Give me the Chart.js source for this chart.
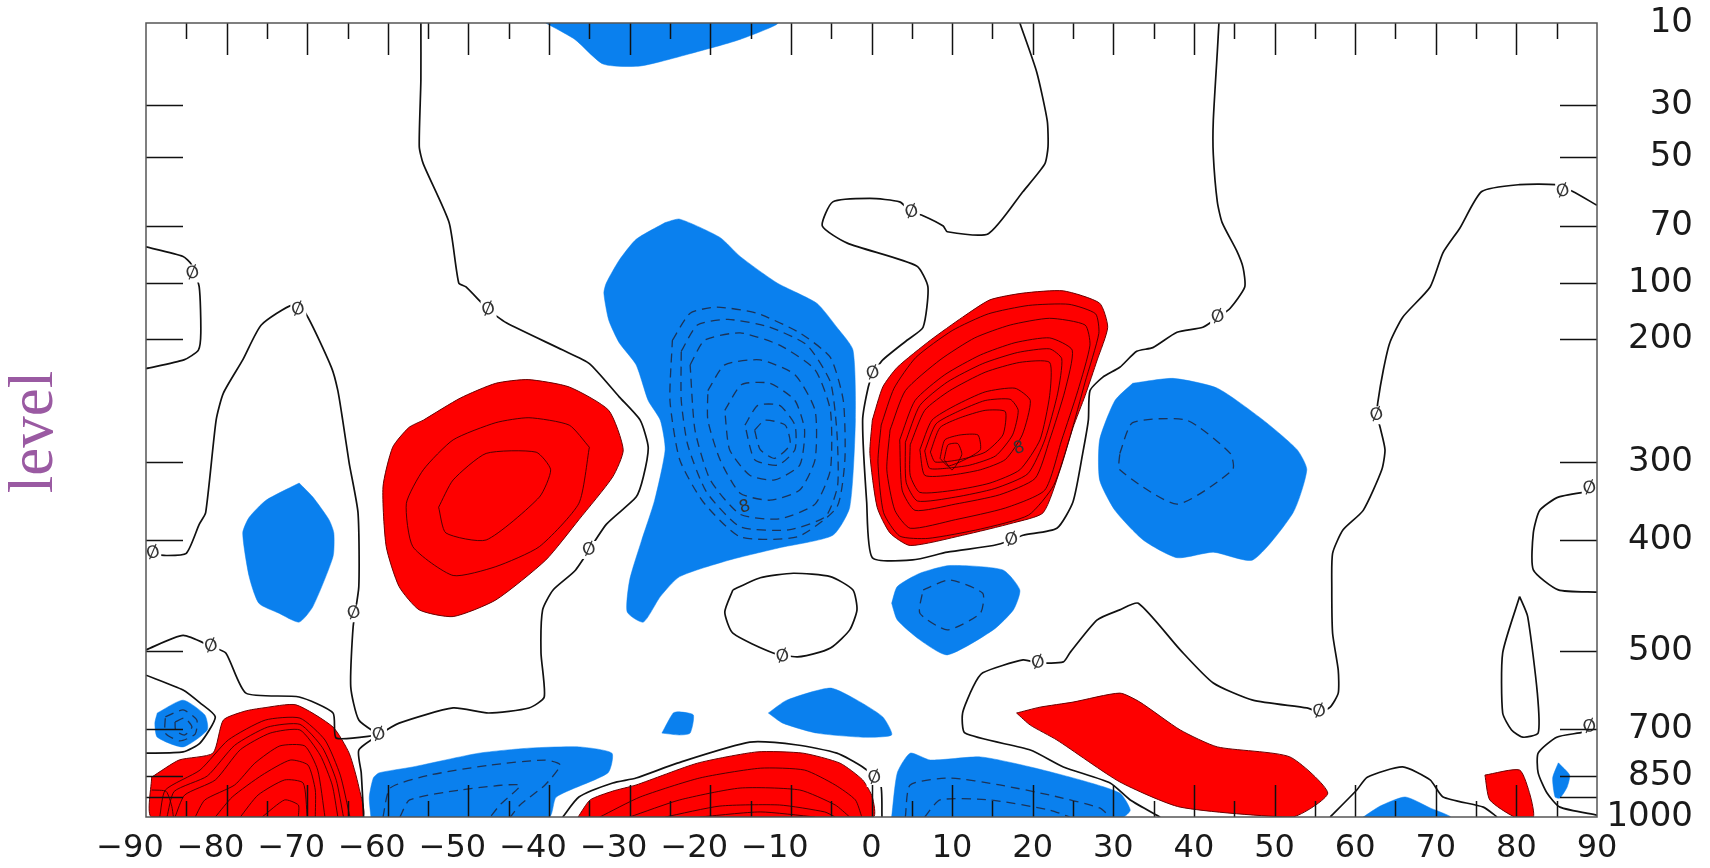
<!DOCTYPE html>
<html>
<head>
<meta charset="utf-8">
<script src="https://cdn.jsdelivr.net/npm/chart.js@4.4.1/dist/chart.umd.min.js"></script>
<style>
  html, body { margin: 0; padding: 0; background: #fff; }
  #wrap { width: 1710px; height: 868px; position: relative; }
</style>
</head>
<body>
<div id="wrap"><canvas id="xsec"></canvas></div>
<script>
// axes
const latTicks = [-90, -80, -70, -60, -50, -40, -30, -20, -10, 0, 10, 20, 30, 40, 50, 60, 70, 80, 90];
const levels = [10, 30, 50, 70, 100, 200, 300, 400, 500, 700, 850, 925, 1000];
const levelLabels = ['10', '30', '50', '70', '100', '200', '300', '400', '500', '700', '850', '', '1000'];
// where each level sits on the (non uniform) vertical axis, 0 = top, 1 = bottom
const levelPos = [0, 0.1033, 0.1688, 0.2557, 0.3275, 0.398, 0.5529, 0.6511, 0.7909, 0.8892, 0.9484, 0.9748, 1];

// shaded regions, [lat, hPa]
const blueTop = [[-40.4,10],[-36.8,14],[-33.3,20],[-28.7,20.5],[-21.6,17],[-16.3,14],[-11.7,10]];
const blueCenter = [[-25.6,69],[-23.8,68],[-18.8,76],[-16.3,86],[-11.7,100],[-6.8,136],[-4.3,179],[-2.3,209],[-2.0,266],[-2.7,358],[-4.8,394],[-11.4,407],[-17.6,418],[-23.8,433],[-26.2,451],[-28.3,474],[-30.3,465],[-30.0,436],[-28.5,400],[-26.9,349],[-25.6,290],[-26.2,266],[-27.7,250],[-29.2,221],[-31.3,203],[-32.6,166],[-33.2,118],[-32.9,100],[-31.3,88],[-29.2,77]];
const blueWest = [[-71.0,327],[-69.3,345],[-67.3,374],[-66.7,391],[-66.8,415],[-69.3,460],[-71.0,474],[-73.5,466],[-76.0,457],[-77.2,433],[-78.0,391],[-77.2,371],[-75.1,349]];
const blueSmall = [[-88.6,659],[-85.4,626],[-82.7,664],[-82.4,703],[-85.4,757],[-88.6,726],[-88.9,685]];
const blueSouthLow = [[-62.1,1000],[-62.3,925],[-61.8,857],[-61.1,840],[-56.9,821],[-48.7,777],[-42.5,761],[-36.3,757],[-32.2,777],[-32.7,840],[-39.1,925],[-40.0,1000]];
const blueDot = [[-26.0,713],[-24.6,659],[-23.8,656],[-22.1,664],[-22.5,713],[-23.8,719]];
const blueMid = [[-12.8,659],[-10.5,626],[-5.1,595],[-1.8,626],[1.4,669],[2.5,719],[-1.1,726],[-6.8,713],[-11.0,685]];
const blueEquator = [[2.5,457],[3.2,442],[6.0,430],[9.7,423],[16.3,427],[18.4,445],[17.6,463],[15.1,481],[9.4,510],[6.0,490],[3.2,472]];
const blueEastLow = [[2.5,1000],[3.2,840],[4.8,777],[7.3,799],[13.5,789],[19.7,821],[25.9,864],[30.8,911],[32.1,974],[31.2,1000]];
const blueNorth = [[32.4,236],[37.4,232],[42.9,240],[48.6,266],[52.8,290],[54.0,310],[52.3,365],[47.3,418],[42.4,411],[37.9,416],[33.7,400],[30.2,362],[28.3,323],[28.3,282],[30.2,250]];
const blueArctic = [[61.0,1000],[63.1,959],[66.2,925],[69.3,966],[71.8,1000]];
const bluePole = [[85.2,808],[86.6,847],[86.3,889],[85.4,929],[84.8,925],[84.5,857]];

const redSouthUp = [[-55.6,266],[-51.0,248],[-46.6,236],[-42.6,233],[-37.5,239],[-32.6,258],[-30.8,290],[-32.1,319],[-36.3,374],[-40.4,418],[-46.6,454],[-51.9,469],[-56.1,463],[-58.6,442],[-60.2,406],[-60.6,332],[-59.4,288],[-57.4,272]];
const redEquatorUp = [[0.1,266],[1.4,239],[3.2,223],[7.3,201],[11.3,161],[14.7,130],[18.8,118],[23.8,114],[28.3,136],[29.3,179],[28.0,217],[26.5,246],[25.0,272],[23.4,310],[21.3,365],[17.6,378],[11.3,394],[4.8,405],[2.3,391],[0.7,358],[-0.2,293]];
const redEquatorLow = [[-36.4,1000],[-34.9,936],[-32.1,904],[-29.2,882],[-21.6,809],[-14.2,773],[-8.5,777],[-3.9,809],[-1.1,864],[0.1,925],[0.2,1000]];
const redNorthLow = [[18.0,659],[20.9,644],[25.0,631],[30.8,608],[33.3,631],[38.3,703],[42.9,757],[51.9,789],[56.6,911],[52.2,1000],[38.3,963],[30.8,871],[23.0,735],[19.7,690]];
const redPole = [[76.1,847],[80.4,831],[81.7,918],[82.1,1000],[79.8,1000],[76.7,936]];
const redSouthLow = [[-89.3,854],[-85.9,799],[-81.7,777],[-80.4,677],[-77.7,654],[-75.5,646],[-71.4,638],[-66.8,695],[-64.8,777],[-63.6,889],[-63.2,1000],[-89.3,1000]];

// positive contours inside the red regions
const redRings = [
  [[-35.0,288],[-36.3,353],[-41.2,406],[-46.6,424],[-51.9,432],[-56.9,406],[-57.7,353],[-55.6,310],[-51.9,282],[-46.6,268],[-42.5,264],[-37.5,270]],
  [[-53.7,358],[-52.8,391],[-47.8,400],[-41.2,345],[-39.8,310],[-41.6,292],[-47.8,293],[-51.9,323]],
  [[1.2,270],[2.8,240],[5.5,215],[10.0,185],[14.5,155],[19.5,140],[24.5,138],[27.8,155],[28.2,190],[26.5,235],[24.6,280],[22.6,330],[19.5,368],[13.5,386],[7.0,398],[3.5,395],[1.5,365],[0.8,300]],
  [[2.3,274],[4.2,242],[8.5,217],[12.8,198],[17.2,175],[22.1,163],[26.5,175],[27.1,205],[25.6,242],[23.6,282],[21.5,336],[16.6,359],[10.4,374],[4.8,385],[2.9,362],[1.9,310]],
  [[3.5,282],[5.4,250],[9.1,229],[13.5,213],[17.8,203],[22.1,198],[24.9,209],[24.0,242],[22.1,282],[20.3,321],[15.9,342],[10.4,354],[5.4,362],[3.8,336]],
  [[4.2,284],[6.0,254],[9.4,235],[13.8,220],[18.1,211],[22.1,208],[23.6,216],[23.1,244],[21.5,282],[19.4,315],[15.3,334],[10.4,345],[5.7,350],[4.3,326]],
  [[4.8,286],[6.6,258],[9.7,242],[14.1,227],[18.4,219],[22.1,219],[22.1,246],[20.9,282],[18.4,310],[14.7,327],[10.4,336],[6.0,339],[4.8,317]],
  [[6.0,290],[7.5,266],[10.4,254],[14.1,243],[17.8,240],[19.7,250],[18.7,278],[16.6,298],[13.5,310],[9.7,317],[6.6,317]],
  [[6.6,291],[8.0,269],[10.7,259],[14.1,250],[17.2,249],[18.2,258],[17.5,278],[15.4,295],[12.2,304],[9.3,308],[7.2,308]],
  [[7.3,292],[8.5,272],[11.0,264],[14.1,258],[16.6,259],[16.3,278],[14.1,292],[11.0,298],[7.9,300]],
  [[8.5,297],[9.1,282],[11.0,278],[13.2,278],[13.5,290],[11.6,298],[9.5,305]],
  [[9.0,298],[9.5,286],[10.7,285],[11.2,294],[10.0,310]]
];
const redArcs = [
  [[-33.7,1000],[-28.7,925],[-21.3,857],[-13.8,825],[-8.3,831],[-4.5,882],[-2.0,936],[-1.2,1000]],
  [[-30.0,1000],[-23.8,936],[-16.3,893],[-8.9,900],[-4.5,955],[-2.7,1000]],
  [[-25.6,1000],[-18.8,959],[-11.4,955],[-5.8,981],[-4.5,1000]],
  [[-21.3,1000],[-13.8,981],[-7.0,1000]],
  [[-88.3,1000],[-87.6,900],[-83.3,831],[-79.8,735],[-75.2,677],[-70.9,672],[-67.8,735],[-65.9,847],[-64.7,1000]],
  [[-87.4,1000],[-86.5,905],[-82.4,850],[-79.0,752],[-74.9,695],[-70.9,688],[-68.1,760],[-66.4,865],[-65.5,1000]],
  [[-86.4,1000],[-85.2,918],[-81.4,864],[-78.3,766],[-74.6,713],[-70.9,703],[-68.4,783],[-66.9,882],[-66.2,1000]],
  [[-83.9,1000],[-82.7,936],[-79.0,882],[-76.5,809],[-73.4,754],[-70.3,754],[-68.7,831],[-67.8,1000]],
  [[-81.4,1000],[-79.3,925],[-75.6,847],[-72.1,799],[-69.9,815],[-69.0,900],[-69.0,1000]],
  [[-78.3,1000],[-76.1,918],[-72.8,864],[-70.5,875],[-70.0,1000]],
  [[-75.6,1000],[-72.8,936],[-71.1,955],[-71.1,1000]],
  [[-89.3,900],[-87.5,905],[-86.8,960],[-86.6,1000]]
];

// negative contours (dashed) inside the blue regions
const blueRings = [
  [[-24.7,201],[-22.5,154],[-19.2,143],[-14.2,154],[-8.9,189],[-5.1,215],[-3.5,250],[-3.3,298],[-4.3,358],[-9.2,396],[-16.3,396],[-20.9,351],[-23.8,298],[-25.0,250]],
  [[-23.6,210],[-21.6,175],[-17.8,165],[-12.8,178],[-8.0,205],[-5.1,235],[-4.3,275],[-4.2,330],[-5.7,370],[-10.3,387],[-16.3,383],[-20.5,338],[-22.8,286],[-23.6,250]],
  [[-22.5,221],[-20.7,201],[-16.3,189],[-11.4,205],[-7.0,225],[-5.1,258],[-5.1,310],[-7.0,354],[-11.4,373],[-16.3,367],[-20.0,323],[-21.9,274]],
  [[-20.3,242],[-18.2,221],[-13.8,217],[-9.5,229],[-7.0,258],[-7.0,298],[-8.9,336],[-12.6,349],[-16.3,340],[-18.8,298],[-20.3,266]],
  [[-18.2,258],[-16.1,237],[-12.6,236],[-9.5,250],[-8.3,274],[-8.9,304],[-12.0,323],[-15.1,317],[-17.6,290]],
  [[-15.7,270],[-14.1,254],[-11.4,254],[-9.5,270],[-9.5,290],[-11.6,304],[-14.5,298]],
  [[-14.5,274],[-13.2,266],[-10.7,270],[-10.1,286],[-12.0,297],[-13.8,290]],
  [[-87.6,669],[-85.4,651],[-83.7,677],[-83.9,716],[-85.8,738],[-87.6,713]],
  [[-86.4,682],[-85.2,672],[-84.3,695],[-85.2,719],[-86.3,706]],
  [[6.4,445],[9.7,436],[13.8,448],[13.5,466],[9.4,481],[6.0,466]],
  [[30.8,293],[32.4,268],[39.1,266],[44.5,293],[44.8,310],[37.9,354],[30.8,310]]
];
const blueArcs = [
  [[-60.6,1000],[-59.7,893],[-54.8,847],[-47.3,815],[-40.5,799],[-38.6,815],[-40.5,882],[-43.6,955],[-44.8,1000]],
  [[-58.5,1000],[-57.3,936],[-51.0,900],[-43.6,882],[-46.1,955],[-47.3,1000]],
  [[4.2,1000],[4.8,882],[9.7,857],[15.9,882],[22.1,918],[28.3,966],[29.6,1000]],
  [[6.6,1000],[8.5,936],[14.7,936],[22.1,974],[24.6,1000]]
];

// zero lines
const zeroA = [[-55.9,10],[-55.9,24],[-56.1,46],[-55.6,52],[-52.4,69],[-51.2,100],[-50.3,107],[-47.5,148],[-45.3,171],[-38.3,209],[-35.0,220],[-31.3,247],[-28.7,266],[-27.7,288],[-28.3,319],[-29.2,345],[-32.9,380],[-36.7,427],[-39.5,445],[-40.8,463],[-41.0,505],[-40.6,618],[-42.5,646],[-47.5,659],[-51.9,646],[-58.6,685],[-61.1,719],[-63.6,767],[-63.3,840],[-63.0,1000]];
const zeroB = [[-90,412],[-87.5,414],[-85.0,412],[-83.4,380],[-82.6,365],[-81.3,266],[-80.4,244],[-78.0,217],[-75.7,175],[-71.8,139],[-70.2,154],[-67.0,223],[-66.2,242],[-65.6,266],[-64.8,301],[-63.7,365],[-63.6,442],[-64.3,478],[-64.6,592],[-63.6,677],[-61.1,719]];
const zeroC = [[-90,499],[-85.4,486],[-81.9,496],[-80.1,505],[-77.6,608],[-71.0,618],[-66.8,659],[-66.4,729],[-61.1,719]];
const zeroD = [[-90,81],[-85.4,86],[-84.4,90],[-83.4,107],[-83.2,189],[-83.5,209],[-85.3,217],[-90,224]];
const zeroE = [[-90,777],[-85.4,773],[-83.3,745],[-81.4,669],[-83.3,633],[-85.4,600],[-90,562]];
const zeroF = [[18.4,10],[20.5,22],[21.8,36],[21.9,46],[21.5,52],[18.8,60],[14.5,74],[9.4,73],[8.9,70],[6.4,67],[5.0,66],[3.5,63],[-0.2,62],[-4.8,63],[-6.1,70],[-3.0,79],[5.6,91],[7.0,107],[6.4,179],[4.4,201],[1.4,217],[0.2,228],[-0.4,239],[-1.1,266],[-0.6,351],[0.1,416],[5.1,418],[9.4,411],[15.1,405],[17.4,400],[18.8,394],[23.0,385],[25.0,351],[26.2,293],[26.9,266],[27.1,242],[28.7,231],[30.8,223],[32.9,210],[34.9,207],[37.9,188],[41.1,179],[43.0,161],[44.5,145],[46.3,107],[46.1,92],[45.3,83],[43.5,69],[42.9,63],[42.4,49],[42.4,36],[42.9,17],[43.1,10]];
const zeroG = [[90,64],[87.0,60],[84.8,58],[80.4,58],[75.7,60],[73.0,71],[70.9,84],[69.3,107],[65.9,161],[64.3,203],[63.5,225],[62.8,252],[62.7,262],[63.1,272],[63.7,290],[63.3,310],[61.0,362],[58.5,387],[57.2,412],[57.1,442],[57.2,484],[57.9,549],[57.9,608],[56.9,644],[55.6,656],[54.0,646],[47.3,626],[42.4,582],[38.3,499],[33.1,457],[30.8,463],[28.0,472],[24.6,505],[23.8,528],[20.7,531],[18.8,523],[13.8,556],[12.6,592],[11.3,659],[11.6,713],[19.7,767],[23.8,821],[29.6,875],[32.1,936],[35.8,1000]];
const zeroH = [[-38.3,1000],[-36.3,925],[-32.1,875],[-29.2,857],[-24.1,809],[-15.1,742],[-9.2,751],[-4.3,777],[-1.1,821],[1.1,875],[1.3,1000]];
const zeroI = [[56.9,1000],[60.2,900],[61.5,854],[65.9,821],[69.3,864],[70.9,925],[75.9,963],[77.6,1000]];
const zeroJ = [[90,336],[85.2,345],[82.9,362],[82.1,391],[82.1,427],[85.2,445],[90,447]];
const zeroK = [[90,695],[88.3,710],[85.0,726],[82.7,777],[82.7,840],[83.8,911],[85.4,963],[90,993]];
const zeroLoop = [[-17.2,445],[-13.8,434],[-9.7,430],[-5.1,433],[-2.3,445],[-1.8,463],[-2.7,481],[-4.8,496],[-6.4,503],[-9.2,515],[-12.2,505],[-17.2,484],[-18.2,465],[-17.2,445]];
const zeroLoopN = [[80.4,451],[81.4,469],[82.6,608],[82.7,713],[80.8,726],[79.4,703],[78.3,659],[78.3,505],[80.4,451]];

// contour labels
const contourLabels = [
  [-84.2,95,'Ø'],[-71.1,148,'Ø'],[-47.5,148,'Ø'],[-89.1,412,'Ø'],[-81.9,496,'Ø'],[-64.2,466,'Ø'],
  [-61.1,719,'Ø'],[-35.0,409,'Ø'],[5.0,66,'Ø'],[0.2,228,'Ø'],[17.4,400,'Ø'],[-11.0,515,'Ø'],
  [0.4,857,'Ø'],[43.0,161,'Ø'],[62.7,262,'Ø'],[55.6,656,'Ø'],[20.7,531,'Ø'],[85.8,60,'Ø'],
  [89.1,334,'Ø'],[89.1,695,'Ø'],[18.3,289,'8'],[-15.7,358,'8']
];

const RED = '#fe0000';
const BLUE = '#0a80ee';

function toAxis(p) {
  for (let i = 1; i < levels.length; i++) {
    if (p <= levels[i]) {
      const t = (p - levels[i - 1]) / (levels[i] - levels[i - 1]);
      return levelPos[i - 1] + t * (levelPos[i] - levelPos[i - 1]);
    }
  }
  return 1;
}
const pts = arr => arr.map(([lat, p]) => ({ x: lat, y: toAxis(p) }));
const closed = arr => pts(arr.concat([arr[0]]));

const datasets = [];
const base = { pointRadius: 0, tension: 0.2, borderJoinStyle: 'round', fill: false };

[blueTop, blueCenter, blueWest, blueSmall, blueSouthLow, blueDot, blueMid, blueEquator, blueEastLow, blueNorth, blueArctic, bluePole]
  .forEach(a => datasets.push({ ...base, data: closed(a), fill: 'shape', backgroundColor: BLUE, borderColor: BLUE, borderWidth: 0.5, order: 3 }));
[redSouthUp, redEquatorUp, redEquatorLow, redNorthLow, redPole, redSouthLow]
  .forEach(a => datasets.push({ ...base, data: closed(a), fill: 'shape', backgroundColor: RED, borderColor: '#6a0000', borderWidth: 1, order: 3 }));

redRings.forEach(a => datasets.push({ ...base, data: closed(a), borderColor: '#3a0000', borderWidth: 0.9, order: 2 }));
redArcs.forEach(a => datasets.push({ ...base, data: pts(a), borderColor: '#3a0000', borderWidth: 0.9, order: 2 }));
blueRings.forEach(a => datasets.push({ ...base, data: closed(a), borderColor: '#1b3358', borderWidth: 1.3, borderDash: [9, 6], order: 2 }));
blueArcs.forEach(a => datasets.push({ ...base, data: pts(a), borderColor: '#1b3358', borderWidth: 1.3, borderDash: [9, 6], order: 2 }));

[zeroA, zeroB, zeroC, zeroD, zeroE, zeroF, zeroG, zeroH, zeroI, zeroJ, zeroK, zeroLoop, zeroLoopN]
  .forEach(a => datasets.push({ ...base, data: pts(a), borderColor: '#111', borderWidth: 1.7, order: 1 }));

// labels, inward tick marks, frame and the "level" caption
const frame = {
  id: 'frame',
  afterDatasetsDraw(chart) {
    const { ctx, chartArea: a, scales: { x, y } } = chart;
    ctx.save();
    ctx.textAlign = 'center';
    ctx.textBaseline = 'middle';
    ctx.font = '17px "DejaVu Sans"';
    contourLabels.forEach(([lat, p, t]) => {
      const px = x.getPixelForValue(lat), py = y.getPixelForValue(toAxis(p));
      if (t === 'Ø') {
        ctx.fillStyle = '#fff';
        ctx.fillRect(px - 8, py - 9, 16, 18);
      }
      ctx.save();
      ctx.translate(px, py);
      ctx.rotate(-0.3);
      ctx.fillStyle = '#333';
      ctx.fillText(t, 0, 0);
      ctx.restore();
    });

    ctx.strokeStyle = '#111';
    ctx.lineWidth = 1.5;
    ctx.beginPath();
    for (let lat = -85; lat < 90; lat += 5) {
      const px = Math.round(x.getPixelForValue(lat)) + 0.5;
      const len = lat % 10 === 0 ? 32 : 16;
      ctx.moveTo(px, a.top); ctx.lineTo(px, a.top + len);
      ctx.moveTo(px, a.bottom); ctx.lineTo(px, a.bottom - len);
    }
    levels.slice(1, -1).forEach(p => {
      const py = Math.round(y.getPixelForValue(toAxis(p))) + 0.5;
      ctx.moveTo(a.left, py); ctx.lineTo(a.left + 37, py);
      ctx.moveTo(a.right, py); ctx.lineTo(a.right - 37, py);
    });
    ctx.stroke();

    ctx.strokeStyle = '#555';
    ctx.lineWidth = 1.5;
    ctx.strokeRect(a.left, a.top, a.right - a.left, a.bottom - a.top);

    ctx.translate(35, 432);
    ctx.rotate(-Math.PI / 2);
    ctx.fillStyle = '#9a5aa2';
    ctx.font = '63px "Liberation Serif"';
    ctx.fillText('level', 0, 0);
    ctx.restore();
  }
};

new Chart(document.getElementById('xsec'), {
  type: 'line',
  data: { datasets },
  options: {
    responsive: true,
    maintainAspectRatio: false,
    animation: false,
    events: [],
    layout: { padding: { left: 146, top: 23, right: 17, bottom: 0 } },
    plugins: { legend: { display: false }, tooltip: { enabled: false } },
    scales: {
      x: {
        type: 'linear',
        min: -90,
        max: 90,
        afterBuildTicks: s => { s.ticks = latTicks.map(v => ({ value: v })); },
        afterFit: s => { s.height = 51; },
        grid: { display: false, drawTicks: false },
        border: { display: false },
        ticks: {
          autoSkip: false,
          maxRotation: 0,
          padding: 12,
          color: '#1a1a1a',
          font: { family: 'DejaVu Sans', size: 32 },
          callback: v => v < 0 ? '\u2212' + (-v) + '\u2003' : String(v)
        }
      },
      y: {
        type: 'linear',
        position: 'right',
        min: 0,
        max: 1,
        reverse: true,
        afterBuildTicks: s => { s.ticks = levelPos.map(v => ({ value: v })); },
        afterFit: s => { s.width = 96; },
        grid: { display: false, drawTicks: false },
        border: { display: false },
        ticks: {
          autoSkip: false,
          padding: 4,
          crossAlign: 'far',
          color: '#1a1a1a',
          font: { family: 'DejaVu Sans', size: 34, lineHeight: 0.6 },
          callback: (v, i) => levelLabels[i]
        }
      }
    }
  },
  plugins: [frame]
});
</script>
</body>
</html>
